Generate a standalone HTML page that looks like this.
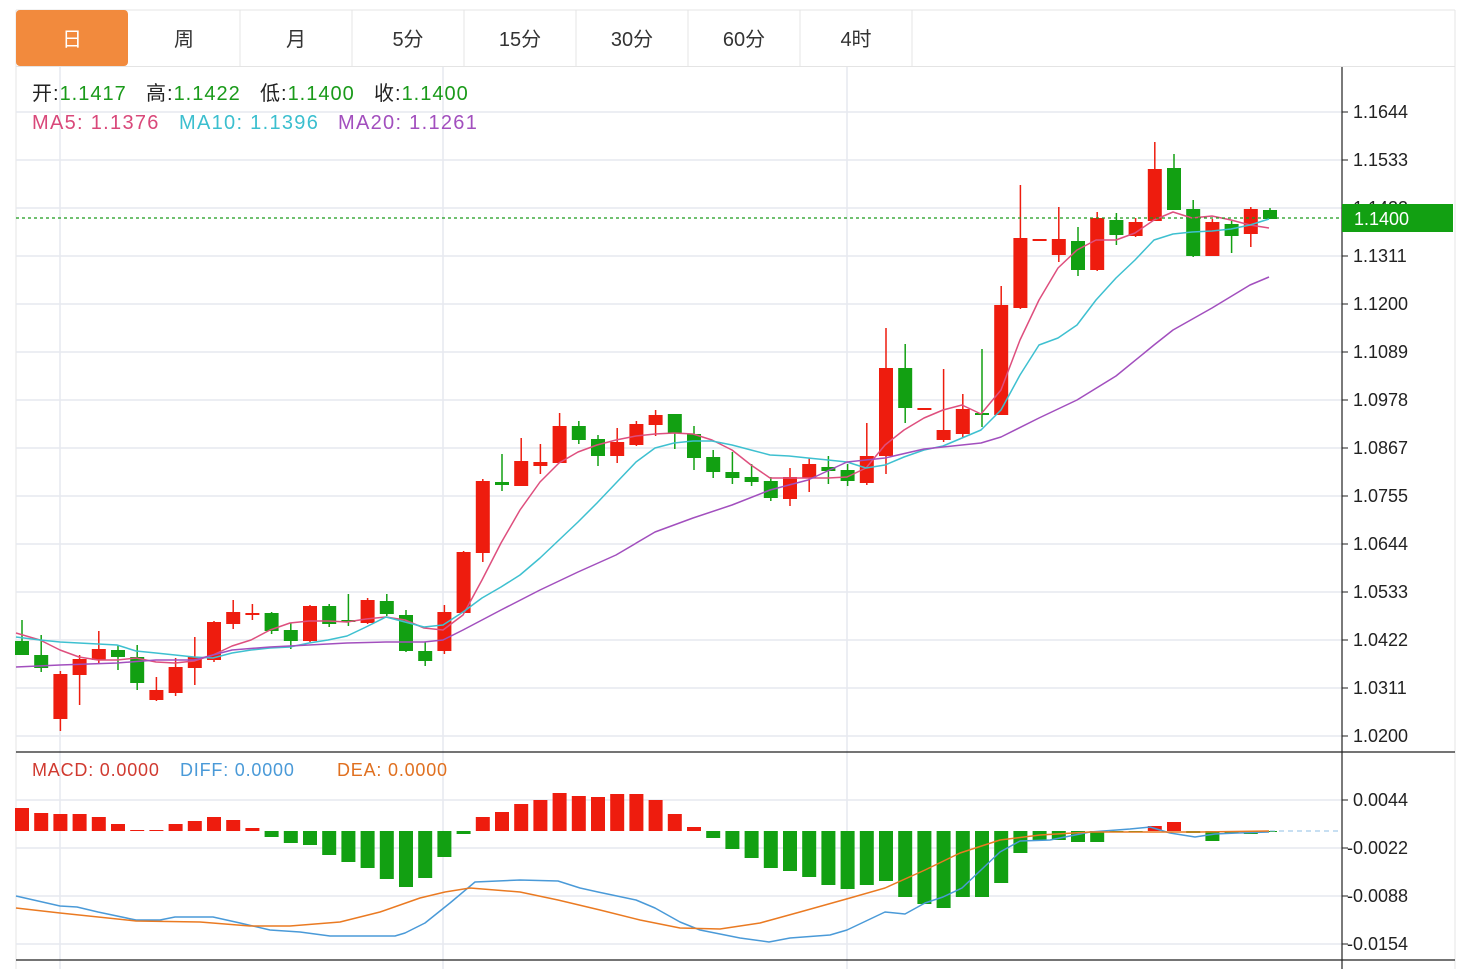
<!DOCTYPE html>
<html><head><meta charset="utf-8">
<style>
html,body{margin:0;padding:0;background:#fff;width:1471px;height:969px;overflow:hidden;}
svg{display:block;font-family:"Liberation Sans","Noto Sans CJK SC",sans-serif;}
</style></head><body>
<svg id="s" width="1471" height="969" viewBox="0 0 1471 969" xmlns="http://www.w3.org/2000/svg">
<rect width="1471" height="969" fill="#fff"/>
<line x1="16" y1="10" x2="1455" y2="10" stroke="#e4e4e4"/>
<line x1="16" y1="66.5" x2="1455" y2="66.5" stroke="#e4e4e4"/>
<line x1="16" y1="10" x2="16" y2="969" stroke="#e4e4e4"/>
<line x1="1455" y1="10" x2="1455" y2="969" stroke="#e4e4e4"/>
<g stroke="#e4e4e4">
<line x1="240" y1="10" x2="240" y2="66"/><line x1="352" y1="10" x2="352" y2="66"/><line x1="464" y1="10" x2="464" y2="66"/><line x1="576" y1="10" x2="576" y2="66"/><line x1="688" y1="10" x2="688" y2="66"/><line x1="800" y1="10" x2="800" y2="66"/><line x1="912" y1="10" x2="912" y2="66"/>
</g>
<rect x="16" y="10" width="112" height="56" rx="4" fill="#f28a3d"/>
<g font-size="20" text-anchor="middle" fill="#333">
<text x="72" y="46" fill="#fff">日</text>
<text x="184" y="46">周</text>
<text x="296" y="46">月</text>
<text x="408" y="46">5分</text>
<text x="520" y="46">15分</text>
<text x="632" y="46">30分</text>
<text x="744" y="46">60分</text>
<text x="856" y="46">4时</text>
</g>
<g id="grid" stroke="#e6e9ef" stroke-width="1.5"></g>
<line x1="1342" y1="67" x2="1342" y2="969" stroke="#222" stroke-width="1.2"/>
<line x1="16" y1="752" x2="1455" y2="752" stroke="#222" stroke-width="1.2"/>
<line x1="16" y1="960" x2="1455" y2="960" stroke="#222" stroke-width="1.2"/>
<g id="ticks" font-size="18" fill="#222"></g>
<g id="shapes"></g>
<line x1="16" y1="218" x2="1342" y2="218" stroke="#1a9a1a" stroke-width="1.3" stroke-dasharray="3,3"/>
<line x1="1270" y1="831" x2="1342" y2="831" stroke="#8fbfe6" stroke-dasharray="5,4"/>
<g font-size="20" letter-spacing="1">
<text x="32" y="100"><tspan fill="#222">开:</tspan><tspan fill="#1a9a1a">1.1417</tspan></text>
<text x="146" y="100"><tspan fill="#222">高:</tspan><tspan fill="#1a9a1a">1.1422</tspan></text>
<text x="260" y="100"><tspan fill="#222">低:</tspan><tspan fill="#1a9a1a">1.1400</tspan></text>
<text x="374" y="100"><tspan fill="#222">收:</tspan><tspan fill="#1a9a1a">1.1400</tspan></text>
</g>
<g font-size="20" letter-spacing="1.3">
<text x="32" y="129" fill="#d9487a">MA5: 1.1376</text>
<text x="179" y="129" fill="#3bbfcf">MA10: 1.1396</text>
<text x="338" y="129" fill="#a24fbe">MA20: 1.1261</text>
</g>
<g font-size="18" letter-spacing="0.8">
<text x="32" y="776" fill="#d03a30">MACD: 0.0000</text>
<text x="180" y="776" fill="#4a9ad8">DIFF: 0.0000</text>
<text x="337" y="776" fill="#e07020">DEA: 0.0000</text>
</g>
<g font-size="18" fill="#222">
<text x="1353" y="118">1.1644</text>
<text x="1353" y="166">1.1533</text>
<text x="1353" y="214">1.1422</text>
<text x="1353" y="262">1.1311</text>
<text x="1353" y="310">1.1200</text>
<text x="1353" y="358">1.1089</text>
<text x="1353" y="406">1.0978</text>
<text x="1353" y="454">1.0867</text>
<text x="1353" y="502">1.0755</text>
<text x="1353" y="550">1.0644</text>
<text x="1353" y="598">1.0533</text>
<text x="1353" y="646">1.0422</text>
<text x="1353" y="694">1.0311</text>
<text x="1353" y="742">1.0200</text>
<text x="1353" y="806">0.0044</text>
<text x="1347" y="854">-0.0022</text>
<text x="1347" y="902">-0.0088</text>
<text x="1347" y="950">-0.0154</text>
</g>
<rect x="1342" y="204" width="111" height="28" fill="#12a012"/>
<text x="1354" y="225" font-size="18" fill="#fff">1.1400</text>
</svg>
<script>
var NS="http://www.w3.org/2000/svg";
function el(p,t,a){var e=document.createElementNS(NS,t);for(var k in a)e.setAttribute(k,a[k]);p.appendChild(e);return e;}
var g=document.getElementById('grid'),sh=document.getElementById('shapes'),tk=document.getElementById('ticks');
[112,160,208,256,304,352,400,448,496,544,592,640,688,736,800,848,896,944].forEach(function(y){el(g,'line',{x1:16,x2:1342,y1:y,y2:y});el(tk,'line',{x1:1342,x2:1348,y1:y,y2:y,stroke:'#222'});});
[60,443,847].forEach(function(x){el(g,'line',{x1:x,x2:x,y1:67,y2:969});});
var R='#ee1c0e',G='#12a012';
var C=[[641,655,620,655,'g'],[655,668,635,672,'g'],[674,719,671,731,'r'],[659,675,655,705,'r'],[649,660,631,663,'r'],[650,657,645,670,'g'],[657,683,645,690,'g'],[690,700,677,701,'r'],[667,693,658,696,'r'],[657,668,637,685,'r'],[622,660,621,662,'r'],[612,624,600,629,'r'],[613,615,604,620,'r'],[613,631,612,634,'g'],[630,641,623,649,'g'],[606,641,605,642,'r'],[606,624,604,627,'g'],[620,622,594,626,'g'],[600,623,598,624,'r'],[601,614,594,616,'g'],[615,651,610,652,'g'],[651,661,642,666,'g'],[612,651,605,654,'r'],[552,613,551,613,'r'],[481,553,479,562,'r'],[482,485,454,491,'g'],[461,486,438,486,'r'],[462,466,444,474,'r'],[426,463,413,463,'r'],[426,440,421,444,'g'],[439,456,435,466,'g'],[442,456,428,463,'r'],[424,445,421,446,'r'],[415,425,410,436,'r'],[414,433,414,449,'g'],[434,458,426,470,'g'],[457,472,450,478,'g'],[472,478,452,484,'g'],[477,482,464,486,'g'],[481,498,477,501,'g'],[477,499,468,506,'r'],[464,478,458,492,'r'],[467,471,456,484,'g'],[470,481,464,486,'g'],[456,483,423,485,'r'],[368,456,328,474,'r'],[368,408,344,423,'g'],[408,410,408,410,'r'],[430,440,369,442,'r'],[409,434,394,437,'r'],[413,415,349,427,'g'],[305,415,286,415,'r'],[238,308,185,309,'r'],[239,241,239,241,'r'],[239,255,207,262,'r'],[241,270,227,276,'g'],[218,270,212,271,'r'],[220,235,213,245,'g'],[222,236,218,237,'r'],[169,221,142,221,'r'],[168,210,154,210,'g'],[209,256,200,257,'g'],[222,256,219,256,'r'],[224,236,221,253,'g'],[209,234,207,247,'r'],[210,219,208,219,'g']];
function X(i){return 22+19.2*i;}
C.forEach(function(c,i){var x=X(i),col=c[4]=='r'?R:G;
el(sh,'line',{x1:x,x2:x,y1:c[2],y2:c[3],stroke:col,'stroke-width':1.5});
el(sh,'rect',{x:x-7,y:c[0],width:14,height:Math.max(2,c[1]-c[0]),fill:col});});
var M=[808,813,814,814,817,824,830,830,824,821,817,820,828,837,843,845,855,862,868,879,887,878,857,834,817,812,804,800,793,796,797,794,794,800,814,827,838,849,858,868,871,877,885,889,885,881,897,904,908,897,897,883,853,840,840,842,842,832,832,826,822,833,841,833,834,831];
M.forEach(function(v,i){var x=X(i);if(v<831){el(sh,'rect',{x:x-7,y:v,width:14,height:831-v,fill:R});}else{el(sh,'rect',{x:x-7,y:831,width:14,height:Math.max(1,v-831),fill:G});}});
function pl(pts,col){el(sh,'polyline',{points:pts.map(function(p){return p.join(',');}).join(' '),fill:'none',stroke:col,'stroke-width':1.5,'stroke-linejoin':'round'});}
pl([[16,633],[40,640],[60,650],[79,657],[98,660],[117,660],[136,658],[156,662],[175,663],[194,661],[213,655],[232,646],[251,640],[270,630],[290,623],[309,621],[328,621],[347,622],[366,619],[386,617],[405,620],[424,628],[443,630],[463,615],[482,580],[501,543],[520,510],[540,482],[559,463],[578,452],[597,445],[616,440],[636,436],[655,434],[674,433],[693,434],[712,440],[732,450],[751,465],[770,478],[789,478],[808,478],[828,478],[847,477],[866,468],[885,445],[904,430],[924,418],[943,410],[962,405],[981,414],[1001,390],[1020,340],[1039,300],[1058,268],[1077,250],[1096,240],[1116,240],[1135,233],[1154,220],[1173,212],[1192,218],[1212,216],[1231,220],[1250,225],[1269,228]],'#de4f7e');
pl([[16,637],[40,640],[60,642],[79,643],[98,644],[117,645],[136,651],[156,653],[175,655],[194,657],[213,658],[232,653],[251,650],[270,648],[290,647],[309,643],[328,640],[347,636],[366,627],[386,617],[405,622],[424,627],[443,625],[463,612],[482,598],[501,587],[520,575],[540,558],[559,540],[578,522],[597,503],[616,483],[636,462],[655,448],[674,443],[693,441],[712,441],[732,445],[751,450],[770,455],[789,456],[808,458],[828,460],[847,462],[866,468],[885,465],[904,457],[924,450],[943,446],[962,438],[981,430],[1001,410],[1020,375],[1039,345],[1058,338],[1077,325],[1096,300],[1116,278],[1135,260],[1154,240],[1173,234],[1192,232],[1212,231],[1231,229],[1250,225],[1269,219]],'#3ec0d0');
pl([[16,667],[60,665],[117,663],[156,660],[194,660],[232,650],[270,647],[309,645],[347,643],[386,642],[424,642],[443,640],[463,630],[501,610],[540,590],[578,572],[616,555],[655,532],[693,518],[732,505],[770,490],[808,480],[847,462],[885,458],[924,449],[962,445],[981,443],[1001,437],[1039,418],[1077,400],[1116,376],[1154,345],[1173,330],[1212,308],[1250,285],[1269,277]],'#a24fbe');
pl([[16,896],[60,906],[77,907],[98,912],[136,920],[160,920],[175,917],[213,917],[240,923],[270,930],[300,932],[330,936],[395,936],[405,933],[425,923],[450,903],[475,882],[520,880],[558,881],[580,888],[598,892],[636,900],[655,908],[680,922],[700,930],[740,938],[769,942],[790,938],[830,935],[847,930],[885,912],[905,914],[925,903],[943,897],[962,888],[1000,852],[1020,841],[1050,840],[1090,832],[1130,829],[1150,827],[1170,833],[1195,837],[1215,834],[1237,833],[1269,832]],'#4a9ad8');
pl([[16,908],[60,913],[136,921],[200,922],[250,926],[290,926],[340,922],[380,912],[420,898],[445,892],[470,888],[520,892],[558,900],[600,910],[640,920],[680,928],[720,929],[760,923],[800,912],[850,898],[885,888],[925,870],[960,853],[1000,840],[1040,835],[1090,832],[1150,832],[1200,832],[1269,831]],'#ea7a22');
</script>
</body></html>
